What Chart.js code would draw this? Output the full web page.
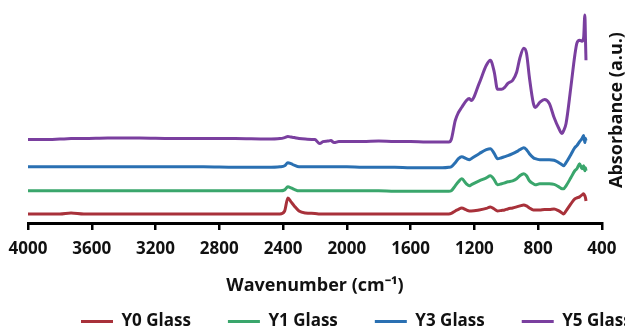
<!DOCTYPE html>
<html>
<head>
<meta charset="utf-8">
<script src="https://cdn.jsdelivr.net/npm/chart.js@4"></script>
<style>
  html, body { margin: 0; padding: 0; background: #fff; }
  #wrap { width: 625px; height: 329px; }
</style>
</head>
<body>
<div id="wrap"><canvas id="ftir"></canvas></div>
<script>
// wavenumber grid (cm-1), shared by all four spectra
const wavenumbers = [4000, 3900, 3800, 3730, 3650, 3500, 3300, 3100, 2900, 2700,
  2500, 2420, 2390, 2370, 2350, 2330, 2300, 2260, 2200, 2170,
  2150, 2120, 2100, 2080, 2050, 2000, 1900, 1800, 1700, 1600,
  1500, 1400, 1360, 1345, 1320, 1300, 1280, 1250, 1232, 1220,
  1170, 1125, 1100, 1075, 1055, 1030, 1010, 990, 960, 935,
  915, 890, 873, 855, 830, 818, 790, 760, 730, 700,
  670, 650, 640, 625, 595, 570, 557, 540, 525, 515,
  507, 503, 500];

// absorbance (a.u., stacked with offsets as in the figure)
const y0Glass = [0.09, 0.09, 0.09, 0.10, 0.09, 0.09, 0.09, 0.09, 0.09, 0.09,
  0.09, 0.09, 0.12, 0.25, 0.21, 0.17, 0.12, 0.10, 0.095, 0.09,
  0.09, 0.09, 0.09, 0.09, 0.09, 0.09, 0.09, 0.09, 0.09, 0.09,
  0.09, 0.09, 0.09, 0.095, 0.12, 0.135, 0.15, 0.13, 0.12, 0.12,
  0.13, 0.145, 0.16, 0.14, 0.12, 0.125, 0.13, 0.14, 0.15, 0.16,
  0.17, 0.18, 0.17, 0.15, 0.13, 0.13, 0.13, 0.135, 0.135, 0.14,
  0.12, 0.10, 0.09, 0.12, 0.19, 0.24, 0.25, 0.26, 0.28, 0.29,
  0.27, 0.25, 0.22];

const y1Glass = [0.32, 0.32, 0.32, 0.32, 0.32, 0.32, 0.32, 0.32, 0.32, 0.32,
  0.32, 0.32, 0.33, 0.36, 0.35, 0.335, 0.32, 0.32, 0.32, 0.32,
  0.32, 0.32, 0.32, 0.32, 0.32, 0.32, 0.32, 0.32, 0.315, 0.315,
  0.315, 0.315, 0.315, 0.32, 0.37, 0.41, 0.44, 0.39, 0.37, 0.38,
  0.42, 0.45, 0.47, 0.43, 0.38, 0.39, 0.40, 0.41, 0.42, 0.44,
  0.47, 0.49, 0.47, 0.42, 0.39, 0.38, 0.39, 0.39, 0.39, 0.385,
  0.36, 0.34, 0.34, 0.37, 0.45, 0.52, 0.54, 0.59, 0.54, 0.57,
  0.52, 0.55, 0.52];

const y3Glass = [0.56, 0.56, 0.56, 0.56, 0.56, 0.56, 0.56, 0.56, 0.56, 0.555,
  0.555, 0.56, 0.57, 0.60, 0.59, 0.575, 0.56, 0.56, 0.56, 0.56,
  0.56, 0.56, 0.56, 0.56, 0.56, 0.56, 0.555, 0.555, 0.555, 0.55,
  0.55, 0.55, 0.555, 0.56, 0.60, 0.64, 0.66, 0.64, 0.63, 0.64,
  0.69, 0.73, 0.74, 0.69, 0.64, 0.65, 0.66, 0.67, 0.69, 0.71,
  0.73, 0.75, 0.73, 0.69, 0.65, 0.64, 0.63, 0.63, 0.63, 0.625,
  0.60, 0.58, 0.57, 0.60, 0.68, 0.75, 0.77, 0.81, 0.84, 0.87,
  0.80, 0.84, 0.82];

const y5Glass = [0.83, 0.83, 0.835, 0.84, 0.84, 0.845, 0.845, 0.84, 0.84, 0.84,
  0.835, 0.84, 0.85, 0.86, 0.855, 0.85, 0.84, 0.835, 0.83, 0.79,
  0.81, 0.815, 0.82, 0.80, 0.81, 0.81, 0.81, 0.815, 0.81, 0.81,
  0.805, 0.805, 0.805, 0.83, 1.02, 1.10, 1.15, 1.22, 1.24, 1.22,
  1.39, 1.57, 1.62, 1.50, 1.33, 1.33, 1.35, 1.39, 1.42, 1.50,
  1.64, 1.74, 1.69, 1.45, 1.19, 1.15, 1.20, 1.23, 1.19, 1.05,
  0.94, 0.89, 0.92, 0.99, 1.35, 1.67, 1.79, 1.82, 1.81, 1.84,
  2.07, 1.82, 1.62];

const seriesNames = ['Y0 Glass', 'Y1 Glass', 'Y3 Glass', 'Y5 Glass'];
const seriesColors = ['#a8313a', '#3aa66c', '#2a70b2', '#7a3f9f'];
const seriesValues = [y0Glass, y1Glass, y3Glass, y5Glass];

const xTicks = [4000, 3600, 3200, 2800, 2400, 2000, 1600, 1200, 800, 400];

const FONT = '"Open Sans", "Liberation Sans", sans-serif';

const datasets = seriesNames.map((name, i) => ({
  label: name,
  data: wavenumbers.map((w, j) => ({ x: w, y: seriesValues[i][j] })),
  borderColor: seriesColors[i],
  backgroundColor: seriesColors[i],
  borderWidth: 3,
  pointRadius: 0,
  cubicInterpolationMode: 'monotone',
  fill: false
}));

// legend sits right of centre and low in the original
const legendPlace = {
  id: 'legendPlace',
  afterLayout(chart) {
    const lg = chart.legend;
    lg.left = 81 - 37;
    lg.right = 2000;
    lg.top = 276;
  }
};

// y title on the right, reading bottom to top
const rightTitle = {
  id: 'rightTitle',
  afterDraw(chart) {
    const ctx = chart.ctx;
    ctx.save();
    ctx.translate(617, 110);
    ctx.rotate(-Math.PI / 2);
    ctx.font = 'bold 18px ' + FONT;
    ctx.fillStyle = '#111';
    ctx.textAlign = 'center';
    ctx.textBaseline = 'middle';
    ctx.fillText('Absorbance (a.u.)', 0, 0);
    ctx.restore();
  }
};

const ctx = document.getElementById('ftir').getContext('2d');
const chart = new Chart(ctx, {
  type: 'line',
  data: { datasets: datasets },
  options: {
    responsive: true,
    maintainAspectRatio: false,
    animation: false,
    layout: { padding: { top: 12, left: 28, right: 8, bottom: 0 } },
    scales: {
      x: {
        type: 'linear',
        reverse: true,
        min: 400,
        max: 4000,
        afterBuildTicks: (scale) => { scale.ticks = xTicks.map(v => ({ value: v })); },
        grid: { display: true, drawOnChartArea: false, drawTicks: true, tickLength: 7, color: '#000', lineWidth: 2.5 },
        border: { display: true, color: '#000', width: 3 },
        ticks: {
          padding: 8.5,
          color: '#111',
          maxRotation: 0,
          autoSkip: false,
          callback: (v) => String(v),
          font: { family: FONT, size: 17, weight: 'bold' }
        },
        title: {
          display: true,
          text: 'Wavenumber (cm⁻¹)',
          color: '#111',
          padding: { top: 7.5, bottom: 3 },
          font: { family: FONT, size: 18, weight: 'bold' }
        }
      },
      y: {
        display: false,
        min: 0,
        max: 2.1
      }
    },
    plugins: {
      legend: {
        position: 'bottom',
        align: 'start',
        maxHeight: 29.5,
        labels: {
          usePointStyle: true,
          pointStyle: 'line',
          pointStyleWidth: 32,
          boxHeight: 17,
          padding: 37,
          color: '#111',
          font: { family: FONT, size: 17, weight: 'bold' }
        }
      },
      tooltip: { enabled: false }
    }
  },
  plugins: [legendPlace, rightTitle]
});
</script>
</body>
</html>
